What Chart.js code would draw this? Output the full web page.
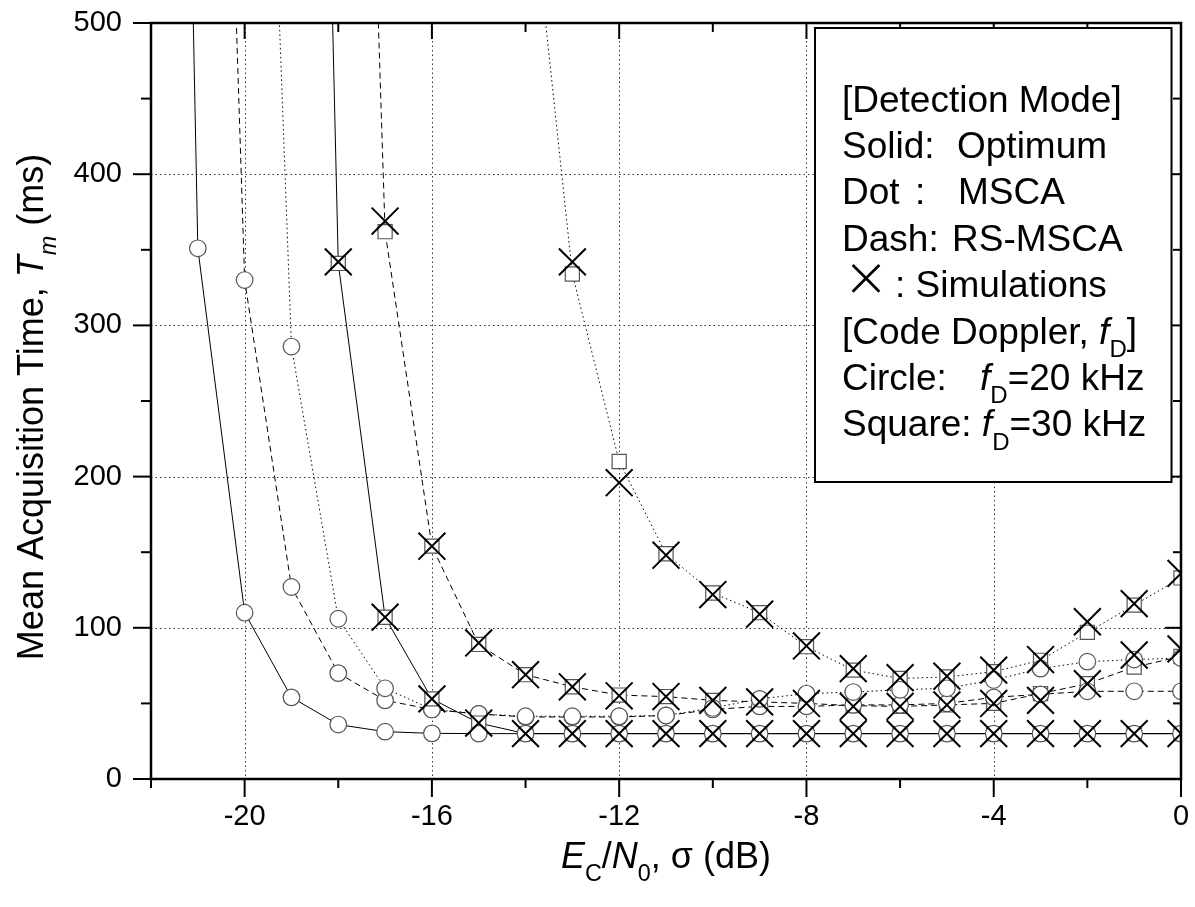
<!DOCTYPE html>
<html>
<head>
<meta charset="utf-8">
<script src="https://cdn.jsdelivr.net/npm/chart.js@4.4.0/dist/chart.umd.min.js"></script>
<style>
html,body{margin:0;padding:0;background:#fff;}
canvas{display:block;}
</style>
</head>
<body>
<canvas id="c" width="1195" height="907"></canvas>
<script>
// ---------------- data ----------------
const xValues = [-22,-21,-20,-19,-18,-17,-16,-15,-14,-13,-12,-11,-10,-9,-8,-7,-6,-5,-4,-3,-2,-1,0];

// Solid: Optimum
const optimumCircle = [1900,351,110,54,36,31.3,30.2,30,30,30,30,30,30,30,30,30,30,30,30,30,30,30,30];
const optimumSquare = [null,null,null,1660,341,107,53,37,30,30,30,30,30,30,30,30,30,30,30,30,30,30,30];
// Dot: MSCA
const msCircle = [null,null,1120,286,106,60,46,43,41.5,41.5,41.5,42,47,53,56.5,57.5,59,60,65.5,73,77.6,79,80];
const msSquare = [null,null,null,null,null,null,null,null,625,334,210,149,123,110,87.5,72,66.5,67.5,71,78.5,97,115,133];
// Dash: RS-MSCA
const rsCircle = [null,1290,330,127,70,52,46,43,41,41,41,42,46,48,48,49,49,50,54,56,58,58,58];
const rsSquare = [null,null,null,null,1320,362,154,89,69,61,55.5,54.5,52,51,50,48.5,48,49,50,56.5,63,74,81];
// Simulations (x)
const simOptimum = [null,null,null,null,342,107,53,37,30,30,30,30,30,30,30,30,30,30,30,30,30,30,30];
const simMs = [null,null,null,null,null,null,null,null,null,342,196,148,122,109,88,73,67,68,72,79,104,116,136];
const simRs = [null,null,null,null,null,369,154,90,69,61,55,54.5,52,51,50,48,48,49,50,52,63,82,86];

// ticks
const xMajorTicks = [-20,-16,-12,-8,-4,0];
const xMinorTicks = [-22,-18,-14,-10,-6,-2];
const yMajorTicks = [0,100,200,300,400,500];
const yMinorTicks = [50,150,250,350,450];
const xGridValues = [-20,-16,-12,-8,-4];
const yGridValues = [100,200,300,400];

// texts
const legendLines = [
  [{t:'[Detection Mode]'}],
  [{t:'Solid:'},{t:'Optimum',at:957}],
  [{t:'Dot'},{t:':',at:915},{t:'MSCA',at:958}],
  [{t:'Dash:'},{t:'RS-MSCA',at:952}],
  [{t:'\u00D7',center:866,big:true},{t:': Simulations',at:895}],
  [{t:'[Code Doppler, '},{t:'f',it:true},{t:'D',sub:true},{t:']'}],
  [{t:'Circle:'},{t:'f',it:true,at:980},{t:'D',sub:true},{t:'=20 kHz'}],
  [{t:'Square: '},{t:'f',it:true},{t:'D',sub:true},{t:'=30 kHz'}]
];
const yTitle = [{t:'Mean Acquisition Time, '},{t:'T',it:true},{t:'m',it:true,sub:true},{t:' (ms)'}];
const xTitle = [{t:'E',it:true},{t:'C',sub:true},{t:'/'},{t:'N',it:true},{t:'0',sub:true},{t:', \u03C3 (dB)'}];

// ---------------- helpers ----------------
const FONT = '"Liberation Sans", Arial, Helvetica, sans-serif';
const toPoints = arr => xValues.map((x,i)=> arr[i]==null ? null : {x:x, y:arr[i]}).filter(p=>p);

function segFont(s, size){
  if (s.big) return '200 ' + (size*1.8) + 'px Inter, "Liberation Sans", sans-serif';
  const fs = s.sub ? size*0.65 : size;
  return (s.it ? 'italic ' : '') + fs + 'px ' + FONT;
}
function measureRich(ctx, segs, size){
  let w = 0;
  segs.forEach(s=>{ ctx.font = segFont(s,size); w += ctx.measureText(s.t).width; });
  return w;
}
function drawRich(ctx, segs, x, y, size){
  let cx = x;
  segs.forEach(s=>{
    ctx.font = segFont(s,size);
    const w = ctx.measureText(s.t).width;
    if (s.at != null) cx = s.at;
    if (s.center != null) cx = s.center - w/2;
    const dy = s.sub ? size*0.36 : 0;
    ctx.fillText(s.t, cx, y+dy);
    cx += w;
  });
}

const framePlugin = {
  id:'frame',
  beforeDatasetsDraw(chart){
    const {ctx, chartArea:a, scales:{x,y}} = chart;
    ctx.save();
    ctx.strokeStyle = '#333';
    ctx.lineWidth = 1;
    ctx.setLineDash([1.5,3]);
    xGridValues.forEach(v=>{
      const p = Math.round(x.getPixelForValue(v))+0.5;
      ctx.beginPath(); ctx.moveTo(p,a.top); ctx.lineTo(p,a.bottom); ctx.stroke();
    });
    yGridValues.forEach(v=>{
      const p = Math.round(y.getPixelForValue(v))+0.5;
      ctx.beginPath(); ctx.moveTo(a.left,p); ctx.lineTo(a.right,p); ctx.stroke();
    });
    ctx.restore();
  },
  afterDatasetsDraw(chart){
    const {ctx, chartArea:a, scales:{x,y}} = chart;
    ctx.save();
    ctx.setLineDash([]);
    ctx.strokeStyle = '#000';
    ctx.lineWidth = 2;
    const seg = (x1,y1,x2,y2)=>{ ctx.beginPath(); ctx.moveTo(x1,y1); ctx.lineTo(x2,y2); ctx.stroke(); };
    xMajorTicks.forEach(v=>{ const p=x.getPixelForValue(v); seg(p,a.bottom,p,a.bottom+18); seg(p,a.top,p,a.top+16); });
    xMinorTicks.forEach(v=>{ const p=x.getPixelForValue(v); seg(p,a.bottom,p,a.bottom+9); seg(p,a.top,p,a.top+9); });
    yMajorTicks.forEach(v=>{ const p=y.getPixelForValue(v); seg(a.left-18,p,a.left,p); seg(a.right-16,p,a.right,p); });
    yMinorTicks.forEach(v=>{ const p=y.getPixelForValue(v); seg(a.left-10,p,a.left,p); seg(a.right-8,p,a.right,p); });
    ctx.lineWidth = 2.5;
    ctx.strokeRect(a.left, a.top, a.right-a.left, a.bottom-a.top);

    // legend box
    ctx.fillStyle = '#fff';
    ctx.fillRect(815, 28, 356.5, 454);
    ctx.lineWidth = 2;
    ctx.strokeRect(815, 28, 356.5, 454);
    ctx.fillStyle = '#000';
    ctx.textAlign = 'left';
    ctx.textBaseline = 'alphabetic';
    legendLines.forEach((line,i)=>{ drawRich(ctx, line, 842, 111.5 + i*46.4, 37); });

    // axis titles
    const tsize = 36;
    const wy = measureRich(ctx, yTitle, tsize);
    ctx.save();
    ctx.translate(43, 407);
    ctx.rotate(-Math.PI/2);
    drawRich(ctx, yTitle, -wy/2, 0, tsize);
    ctx.restore();
    const wx = measureRich(ctx, xTitle, tsize);
    drawRich(ctx, xTitle, (a.left+a.right)/2 - wx/2, 868, tsize);
    ctx.restore();
  }
};

function zeroPad(s){ s.paddingLeft = 0; s.paddingRight = 0; s.paddingTop = 0; s.paddingBottom = 0; }

function lineSet(arr, dash, style){
  return {
    data: toPoints(arr),
    borderColor:'#000', borderWidth:1, borderDash:dash,
    pointStyle:style, pointRadius: style==='rect' ? 10 : 8.3,
    pointBorderColor:'#555', pointBackgroundColor:'#fff', pointBorderWidth:1.2,
    showLine:true, tension:0, clip:0
  };
}
function simSet(arr){
  return {
    data: toPoints(arr),
    showLine:false, pointStyle:'crossRot', pointRadius:19,
    pointBorderColor:'#000', pointBorderWidth:2, borderColor:'#000', clip:0
  };
}

const chart = new Chart(document.getElementById('c'), {
  type:'line',
  data:{ datasets:[
    simSet(simOptimum), simSet(simMs), simSet(simRs),
    lineSet(optimumCircle, [], 'circle'),
    lineSet(optimumSquare, [], 'rect'),
    lineSet(msCircle, [1.5,3], 'circle'),
    lineSet(msSquare, [1.5,3], 'rect'),
    lineSet(rsCircle, [6,4], 'circle'),
    lineSet(rsSquare, [6,4], 'rect')
  ]},
  options:{
    responsive:false, animation:false, devicePixelRatio:1,
    layout:{ autoPadding:false, padding:{ left:0, right:14, top:23, bottom:0 } },
    plugins:{ legend:{display:false}, tooltip:{enabled:false}, title:{display:false} },
    scales:{
      x:{ type:'linear', min:-22, max:0,
          grid:{display:false, drawTicks:false}, border:{display:false},
          afterBuildTicks: s=>{ s.ticks = xMajorTicks.map(v=>({value:v})); },
          afterFit: s=>{ s.height = 128; zeroPad(s); },
          ticks:{ font:{family:FONT, size:29}, color:'#000', padding:21, maxRotation:0, autoSkip:false } },
      y:{ type:'linear', min:0, max:500,
          grid:{display:false, drawTicks:false}, border:{display:false},
          afterBuildTicks: s=>{ s.ticks = yMajorTicks.map(v=>({value:v})); },
          afterFit: s=>{ s.width = 151; zeroPad(s); },
          ticks:{ font:{family:FONT, size:29}, color:'#000', padding:29 } }
    }
  },
  plugins:[framePlugin]
});
</script>
</body>
</html>
